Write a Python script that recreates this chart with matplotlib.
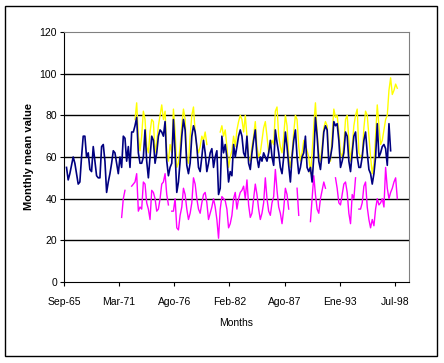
import numpy as np
import matplotlib
matplotlib.use("Agg")
import matplotlib.pyplot as plt
from matplotlib.patches import Rectangle

nan = np.nan

# month index 0 = Sep-65; each series sampled every 2 months
tick_labels = ["Sep-65", "Mar-71", "Ago-76", "Feb-82", "Ago-87", "Ene-93", "Jul-98"]
tick_months = [0, 66, 132, 198, 264, 330, 396]

navy_start = 3
navy_vals = [55, 49, 52, 56, 60, 57, 52, 47, 48, 60, 70, 70, 60, 62, 54, 53, 65, 58, 51, 50,
             50, 65, 66, 58, 43, 48, 52, 57, 63, 62, 57, 52, 60, 55, 70, 69, 58, 65, 55, 72,
             72, 75, 79, 62, 57, 57, 60, 73, 58, 50, 60, 70, 68, 57, 62, 70, 73, 72, 70, 77,
             58, 51, 55, 57, 78, 62, 43, 48, 58, 70, 78, 73, 56, 52, 57, 70, 75, 72, 65, 55,
             53, 60, 68, 62, 53, 57, 62, 64, 55, 60, 63, 42, 45, 70, 62, 66, 60, 48, 53, 51,
             66, 60, 65, 70, 73, 70, 62, 60, 70, 57, 54, 62, 68, 73, 60, 55, 60, 58, 62, 60,
             58, 62, 68, 60, 56, 73, 67, 62, 55, 52, 60, 72, 65, 56, 48, 60, 68, 73, 60, 52,
             55, 60, 62, 70, 55, 53, 55, 48, 60, 79, 70, 58, 54, 62, 72, 75, 73, 57, 60, 65,
             77, 75, 76, 68, 55, 58, 62, 72, 70, 58, 53, 62, 70, 72, 60, 55, 55, 60, 68, 72,
             62, 54, 52, 47, 52, 60, 76, 60, 62, 65, 66, 64, 56, 76, 63]

yellow_start = 85
yellow_vals = [78, 86, 70, 63, 70, 82, 78, 65, 62, 72, 78, 77, 62, 67, 75, 80, 85, 78, 82, 62,
               58, 66, 62, 83, 72, 55, 57, 65, 75, 83, 78, 60, 57, 70, 80, 84, 72, 65, 62, 65,
               70, 68, 72, 66, nan, nan, nan, nan, nan, nan, nan,
               72, 75, 70, 73, 65, 55, 60, 63, 70, 65, 73, 77, 80, 78, 72, 80, 70, 60, 58, 65,
               70, 77, 65, 60, 62, 68, 74, 77, 70, 62, 65, 68, 66, 82, 84, 70, 65, 62, 70, 80,
               75, 60, 55, 62, 72, 80, 78, 65, 58, 62, 68, 66, 63, 60, 52, 62, 75, 86, 72, 62,
               58, 65, 74, 77, 75, 60, 58, 70, 83, 79, 80, 72, 62, 60, 66, 78, 80, 68, 58, 65,
               75, 80, 83, 62, 60, 61, 74, 82, 80, 70, 60, 52, 57, 70, 85, 75, 66, 68, 73, 78,
               80, 92, 98, 90, 92, 95, 93]

magenta_start = 69
magenta_vals = [31, 40, 44, nan, nan, nan, 46, 47, 48, 52, 34, 36, 35, 48, 47, 38, 35, 30, 44, 43,
                40, 34, 35, 40, 47, 48, 52, 42, 37, nan, 34, 34, 40, 26, 25, 32, 36, 45, 42, 35,
                30, 33, 38, 50, 47, 40, 35, 33, 38, 42, 43, 38, 30, 33, 36, 40, 36, 30, 21, 35,
                41, 40, 39, 35, 26, 28, 32, 40, 43, 35, 40, 43, 44, 46, 40, 49, 37, 31, 33, 40,
                47, 42, 35, 30, 33, 38, 50, 40, 34, 32, 38, 41, 54, 44, 36, 33, 28, 35, 45, 42,
                35, nan, nan, nan, nan, 45, 32, nan, nan, nan, nan, nan, nan, 29, 40, 51, 42, 35,
                33, 40, 44, 48, 45, nan, nan, nan, nan, nan, 50, 45, 38, 37, 42, 47, 48, 43, 33,
                28, 42, 40, 50, nan, 35, 35, 38, 46, 48, 36, 30, 26, 30, 27, 35, 40, 37, 38, 40,
                36, 55, 45, 40, 43, 45, 48, 50, 40]

W, H = 444, 363
fig = plt.figure(figsize=(W / 100, H / 100), dpi=100)
fig.patch.set_facecolor("white")
fig.patches.append(Rectangle((5 / W, 1 - 356 / H), 432 / W, 350 / H, transform=fig.transFigure,
                             fill=False, edgecolor="black", linewidth=1.0))

ax = fig.add_axes([64 / W, 1 - 282 / H, 345 / W, 250 / H])
ax.set_facecolor("white")

def months(start, vals):
    return start + 2 * np.arange(len(vals))

ax.plot(months(yellow_start, yellow_vals), yellow_vals, color="#FFFF00", lw=1.0, zorder=3)
ax.plot(months(magenta_start, magenta_vals), magenta_vals, color="#FF00FF", lw=1.0, zorder=3)
ax.plot(months(navy_start, navy_vals), navy_vals, color="#000080", lw=1.2, zorder=4)

ax.set_xlim(0, 413)
ax.set_ylim(0, 120)
ax.set_yticks(range(0, 121, 20))
ax.set_xticks(tick_months)
ax.set_xticklabels(tick_labels)
for y in range(20, 120, 20):
    ax.axhline(y, color="black", lw=1.0, zorder=1)

font = "Liberation Sans"
for lab in ax.get_xticklabels() + ax.get_yticklabels():
    lab.set_fontfamily(font)
    lab.set_fontsize(7.5)
ax.tick_params(axis="both", direction="out", length=3, width=0.8, colors="black", pad=2)
ax.tick_params(axis="x", pad=8)
ax.spines["top"].set_color("#808080")
ax.spines["right"].set_color("#808080")
ax.spines["left"].set_color("black")
ax.spines["bottom"].set_color("black")
for s in ax.spines.values():
    s.set_linewidth(0.8)

ax.set_ylabel("Monthly mean value", fontfamily=font, fontsize=8, fontweight="bold", labelpad=4)
ax.set_xlabel("Months", fontfamily=font, fontsize=7.5, labelpad=8)

fig.savefig("out.png", dpi=100)
